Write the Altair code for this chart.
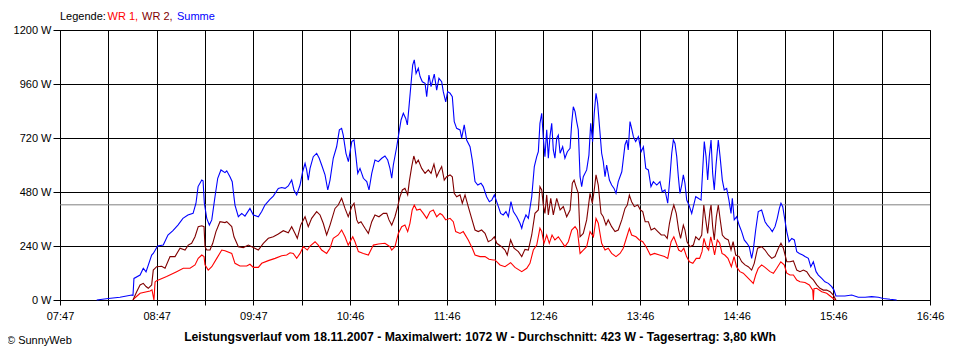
import altair as alt
import pandas as pd

# ---------------- data (minutes after 07:47, Watt) ----------------
t_summe = [
    22.8, 30.0, 37.2, 44.5, 45.3, 45.9, 49.7, 51.7, 53.4, 56.9,
    57.9, 60.6, 64.1, 67.0, 70.1, 73.2, 76.3, 79.4, 82.6, 84.4,
    85.7, 88.0, 88.8, 89.6, 91.1, 92.7, 94.2, 96.2, 97.9, 99.9,
    102.4, 103.5, 105.5, 106.9, 107.6, 108.6, 110.7, 112.8, 114.8, 117.9,
    120.0, 123.1, 125.2, 127.2, 130.3, 132.4, 135.5, 137.6, 139.7, 141.7,
    143.8, 145.2, 146.9, 149.0, 150.6, 152.1, 153.1, 154.1, 155.2, 157.2,
    159.3, 160.9, 162.4, 164.5, 166.2, 167.6, 169.6, 171.7, 173.4, 174.8,
    175.8, 177.5, 179.0, 181.1, 182.5, 183.7, 184.8, 186.2, 188.3, 190.4,
    191.8, 193.5, 195.5, 197.6, 199.7, 201.7, 203.4, 204.8, 205.9, 206.9,
    209.0, 210.0, 211.7, 213.1, 214.6, 215.6, 216.8, 217.9, 218.9, 219.9,
    221.0, 222.4, 223.5, 224.9, 226.6, 227.6, 229.0, 230.3, 232.3, 233.8,
    235.2, 236.9, 237.9, 239.4, 240.6, 242.1, 243.5, 244.7, 246.2, 248.3,
    249.3, 250.9, 252.4, 254.5, 255.9, 257.6, 259.3, 261.3, 262.7, 264.8,
    266.5, 268.0, 269.6, 272.1, 273.5, 275.1, 276.8, 278.3, 279.9, 281.4,
    283.5, 285.5, 286.6, 287.6, 289.2, 290.7, 292.8, 294.4, 295.9, 296.9,
    297.9, 299.0, 300.0, 301.0, 302.1, 303.1, 304.1, 305.2, 306.2, 307.2,
    308.3, 309.3, 310.4, 312.0, 313.4, 314.9, 316.6, 317.6, 318.6, 319.7,
    320.7, 321.7, 322.8, 323.8, 324.8, 326.9, 328.3, 329.4, 330.6, 331.6,
    332.7, 333.7, 334.7, 336.2, 337.2, 338.3, 339.3, 341.0, 342.4, 343.9,
    345.1, 346.5, 348.7, 350.7, 351.8, 352.7, 353.8, 354.8, 355.9, 357.3,
    359.0, 360.7, 362.1, 363.6, 365.2, 366.8, 368.3, 370.4, 372.4, 373.8,
    375.5, 377.2, 378.6, 379.7, 380.7, 381.7, 382.8, 383.8, 384.8, 385.9,
    386.9, 387.9, 389.0, 390.4, 392.1, 393.1, 394.6, 396.2, 397.9, 398.9,
    399.9, 401.0, 402.0, 403.0, 404.1, 405.1, 406.1, 407.2, 408.6, 409.7,
    411.1, 412.3, 413.8, 415.2, 416.5, 417.3, 418.5, 420.0, 421.5, 423.1,
    424.7, 426.4, 427.8, 429.3, 430.3, 431.8, 433.4, 435.5, 437.6, 439.0,
    440.7, 442.1, 443.8, 445.2, 446.5, 447.5, 448.6, 449.6, 451.1, 452.5,
    454.2, 455.8, 457.3, 458.9, 461.0, 462.4, 464.5, 466.0, 467.6, 469.3,
    470.7, 472.8, 474.8, 476.9, 479.0, 480.4, 481.6, 487.2, 491.4, 495.5,
    499.7, 503.8, 507.9, 511.0, 515.2, 519.3,
]
summe = [
    0, 7, 12, 22, 20, 96, 111, 141, 125, 200,
    207, 240, 244, 289, 308, 333, 363, 378, 385, 430,
    504, 533, 530, 430, 363, 333, 356, 459, 541, 578,
    566, 574, 548, 526, 481, 422, 370, 385, 373, 407,
    378, 370, 393, 422, 447, 462, 496, 500, 496, 507,
    533, 489, 467, 511, 570, 607, 578, 533, 585, 637,
    652, 630, 600, 556, 489, 533, 630, 681, 756, 763,
    733, 652, 615, 704, 711, 637, 563, 585, 541, 526,
    489, 563, 622, 615, 630, 640, 622, 585, 541, 600,
    681, 726, 800, 830, 807, 778, 874, 963, 1044, 1067,
    1007, 1030, 993, 970, 963, 904, 1000, 948, 1004, 933,
    985, 970, 926, 881, 926, 919, 904, 793, 763, 756,
    719, 778, 711, 681, 622, 526, 511, 519, 504, 459,
    437, 444, 467, 415, 385, 378, 393, 370, 437, 393,
    370, 341, 319, 348, 378, 363, 459, 593, 637, 659,
    785, 830, 719, 637, 756, 630, 726, 785, 667, 630,
    719, 733, 652, 681, 630, 659, 674, 785, 859, 837,
    793, 756, 548, 504, 548, 578, 644, 785, 704, 830,
    919, 874, 785, 652, 615, 548, 600, 533, 511, 496,
    474, 526, 570, 690, 711, 667, 793, 763, 726, 704,
    726, 659, 681, 585, 578, 504, 526, 511, 526, 481,
    489, 430, 548, 652, 711, 696, 637, 548, 474, 511,
    556, 519, 444, 422, 385, 415, 459, 452, 444, 578,
    704, 637, 533, 637, 711, 563, 489, 600, 711, 637,
    533, 489, 496, 444, 385, 452, 356, 370, 333, 304,
    267, 252, 237, 185, 222, 311, 393, 400, 348, 333,
    319, 304, 326, 363, 407, 430, 415, 370, 304, 259,
    274, 267, 215, 207, 200, 193, 185, 148, 170, 126,
    111, 96, 81, 74, 59, 44, 18, 18, 22, 12,
    12, 15, 12, 7, 3, 0,
]

t_wr2 = [
    45.3, 47.6, 49.7, 51.7, 53.4, 54.8, 56.9, 57.9, 60.0, 63.1,
    65.2, 68.3, 71.4, 74.5, 77.6, 79.6, 81.7, 83.8, 85.8, 88.0,
    89.4, 90.0, 91.1, 93.1, 94.8, 96.8, 99.3, 102.4, 103.5, 106.6,
    108.0, 110.7, 113.8, 116.9, 120.0, 123.1, 126.2, 129.3, 132.4, 135.5,
    138.6, 141.7, 143.8, 145.9, 147.3, 149.4, 152.1, 154.1, 156.2, 159.3,
    161.4, 163.4, 165.5, 167.6, 170.7, 172.7, 174.8, 176.9, 178.9, 181.1,
    182.5, 184.2, 185.2, 186.8, 189.3, 191.4, 193.5, 195.5, 198.0, 200.7,
    202.8, 204.2, 205.9, 207.9, 209.6, 211.0, 212.5, 214.1, 215.8, 216.8,
    218.3, 219.6, 221.0, 222.4, 224.5, 226.6, 228.6, 230.3, 232.1, 233.8,
    235.2, 236.9, 238.5, 240.0, 242.1, 243.5, 244.7, 246.2, 248.3, 249.7,
    251.4, 253.4, 255.5, 257.6, 259.6, 261.7, 263.8, 265.8, 267.9, 269.6,
    271.1, 274.1, 276.2, 277.6, 279.7, 281.8, 284.5, 286.6, 288.6, 290.7,
    292.8, 294.8, 296.9, 297.9, 299.0, 300.0, 301.0, 302.1, 303.1, 304.6,
    306.2, 308.3, 310.4, 312.4, 314.5, 316.6, 318.0, 319.1, 320.3, 321.7,
    322.8, 324.8, 326.9, 329.0, 330.4, 331.6, 332.7, 334.1, 335.8, 337.2,
    338.9, 340.3, 342.4, 344.5, 346.5, 348.7, 350.7, 352.1, 353.4, 354.8,
    356.5, 358.6, 360.3, 361.7, 363.2, 365.2, 366.9, 369.0, 371.1, 373.2,
    375.2, 376.9, 378.3, 379.8, 381.0, 382.5, 384.0, 385.2, 386.9, 387.9,
    389.2, 391.0, 393.1, 394.6, 396.6, 398.3, 399.6, 400.8, 402.0, 403.5,
    404.1, 405.1, 406.1, 407.4, 408.6, 409.8, 411.1, 412.8, 414.8, 416.5,
    417.8, 419.4, 421.5, 423.1, 425.2, 427.2, 429.3, 430.9, 433.0, 435.5,
    437.6, 439.7, 441.8, 443.8, 445.9, 447.5, 449.0, 451.1, 453.1, 455.2,
    457.3, 459.3, 461.4, 463.5, 465.5, 467.6, 469.7, 471.7, 473.8, 475.9,
    478.0, 480.0, 481.6,
]
wr2 = [
    0, 37, 67, 74, 60, 52, 67, 133, 148, 150,
    141, 193, 193, 230, 222, 244, 252, 281, 326, 330,
    326, 237, 222, 222, 252, 304, 348, 344, 348, 326,
    281, 237, 233, 244, 233, 222, 252, 274, 281, 293,
    308, 299, 326, 296, 274, 333, 370, 326, 363, 393,
    378, 341, 289, 333, 407, 422, 452, 407, 370, 415,
    430, 356, 341, 348, 319, 296, 348, 378, 370, 385,
    385, 356, 333, 370, 415, 459, 489, 496, 467, 526,
    593, 640, 607, 622, 585, 563, 578, 563, 604, 548,
    570, 593, 533, 548, 556, 548, 474, 459, 467, 430,
    467, 415, 363, 311, 304, 311, 296, 259, 267, 281,
    252, 237, 222, 200, 267, 230, 215, 193, 225, 222,
    289, 385, 400, 504, 489, 422, 385, 467, 378, 452,
    378, 452, 400, 415, 370, 400, 519, 533, 504, 474,
    281, 296, 356, 474, 430, 489, 556, 511, 385, 370,
    333, 356, 326, 304, 311, 356, 407, 422, 466, 437,
    415, 422, 400, 393, 348, 348, 311, 319, 304, 289,
    289, 274, 341, 393, 422, 385, 311, 274, 333, 311,
    259, 237, 244, 281, 267, 289, 422, 356, 296, 400,
    422, 326, 267, 370, 422, 356, 289, 274, 267, 222,
    259, 200, 193, 170, 156, 148, 133, 163, 230, 237,
    222, 200, 185, 193, 230, 252, 230, 170, 170, 174,
    133, 126, 133, 126, 104, 89, 67, 52, 44, 44,
    37, 22, 0,
]

t_wr1 = [
    45.3, 46.6, 49.7, 55.9, 57.1, 58.3, 59.0, 60.0, 66.2, 72.4,
    76.5, 80.7, 83.8, 85.8, 88.0, 89.4, 90.0, 92.0, 94.2, 97.3,
    100.4, 102.4, 106.6, 108.6, 111.7, 115.9, 117.9, 120.0, 123.1, 125.2,
    129.3, 133.5, 137.6, 140.7, 142.8, 144.8, 146.9, 149.0, 151.0, 153.5,
    155.2, 158.3, 160.3, 162.4, 165.5, 167.6, 169.6, 172.7, 174.8, 176.9,
    178.9, 181.7, 183.1, 185.2, 188.3, 191.4, 194.5, 197.6, 201.7, 204.8,
    205.9, 207.9, 210.0, 212.1, 214.1, 215.8, 217.2, 218.6, 219.9, 221.4,
    223.5, 225.5, 227.6, 229.7, 231.7, 233.8, 235.9, 237.3, 239.4, 242.1,
    244.1, 245.6, 248.3, 250.3, 253.4, 255.9, 257.6, 260.7, 263.8, 266.3,
    268.9, 270.0, 273.1, 276.2, 279.7, 282.4, 286.6, 289.7, 291.7, 293.8,
    295.9, 297.9, 299.0, 300.4, 302.1, 303.7, 305.4, 307.2, 309.3, 311.4,
    313.4, 315.5, 317.6, 319.7, 321.1, 322.8, 324.8, 326.9, 329.0, 331.1,
    332.7, 334.1, 336.2, 338.3, 340.3, 342.4, 345.1, 347.6, 349.6, 351.8,
    353.4, 354.8, 357.5, 359.6, 361.7, 363.8, 366.4, 369.0, 372.1, 375.2,
    377.2, 379.3, 381.0, 382.5, 384.0, 385.6, 387.2, 388.9, 390.7, 392.8,
    394.9, 397.0, 398.5, 399.7, 401.2, 402.6, 403.9, 405.3, 406.3, 408.0,
    409.5, 410.9, 412.6, 414.6, 416.7, 418.4, 419.9, 422.0, 424.1, 426.2,
    428.2, 430.3, 431.8, 433.4, 435.5, 437.6, 440.7, 442.8, 444.9, 447.4,
    449.5, 451.1, 453.1, 455.2, 457.3, 459.3, 462.4, 465.1, 467.2, 467.6,
    468.0, 469.7, 472.8, 475.9, 478.0, 480.0, 481.6,
]
wr1 = [
    0, 10, 30, 40, 45, 0, 80, 86, 104, 126,
    141, 141, 156, 185, 200, 193, 156, 133, 148, 185,
    222, 219, 207, 163, 151, 151, 159, 145, 145, 163,
    175, 185, 197, 200, 210, 207, 185, 207, 237, 222,
    240, 259, 244, 222, 207, 230, 274, 289, 311, 281,
    244, 281, 259, 215, 207, 200, 244, 249, 252, 237,
    222, 237, 296, 326, 333, 304, 341, 400, 422, 400,
    404, 385, 363, 393, 400, 370, 385, 378, 356, 363,
    348, 304, 296, 304, 267, 230, 200, 193, 193, 181,
    178, 178, 156, 148, 166, 145, 126, 141, 163, 222,
    244, 319, 304, 252, 289, 252, 289, 267, 281, 259,
    237, 259, 311, 326, 311, 207, 222, 237, 304, 281,
    363, 341, 252, 222, 230, 207, 193, 207, 230, 281,
    318, 289, 281, 267, 259, 237, 200, 207, 200, 193,
    185, 259, 281, 252, 222, 215, 230, 193, 170, 163,
    185, 185, 215, 274, 237, 222, 281, 237, 200, 267,
    252, 207, 200, 185, 148, 193, 148, 126, 119, 104,
    89, 74, 111, 141, 156, 145, 126, 119, 141, 170,
    156, 119, 111, 111, 89, 81, 78, 67, 44, 0,
    50, 52, 37, 30, 18, 7, 0,
]

AVG = 423
SERIES = ["WR 1", "WR 2", "Summe"]
COLORS = ["#ff0000", "#800000", "#0000ff"]
X_TICKS = list(range(0, 541, 30))
X_LABELS = ["07:47", "08:47", "09:47", "10:46", "11:46",
            "12:46", "13:46", "14:46", "15:46", "16:46"]
Y_TICKS = [0, 240, 480, 720, 960, 1200]
TITLE = ("Leistungsverlauf vom 18.11.2007 - Maximalwert: 1072 W - "
         "Durchschnitt: 423 W - Tagesertrag: 3,80 kWh")
FONT = "Liberation Sans"

# ---------------- chart ----------------
label_arr = "[" + ",".join("'" + s + "'" for s in X_LABELS) + "]"
x_label_expr = f"datum.value % 60 == 0 ? {label_arr}[datum.value / 60] : ''"

x_enc = alt.X(
    "t:Q",
    scale=alt.Scale(domain=[0, 540], nice=False, zero=False),
    axis=alt.Axis(values=X_TICKS, labelExpr=x_label_expr, title=None,
                  tickSize=5, labelPadding=5, labelFlush=False,
                  labelOverlap=False, labelBound=False),
)
y_enc = alt.Y(
    "W:Q",
    scale=alt.Scale(domain=[0, 1200], nice=False),
    axis=alt.Axis(values=Y_TICKS, labelExpr="datum.value + ' W'", title=None,
                  tickSize=7, labelPadding=2),
)


def series_layer(t, v, color):
    df = pd.DataFrame({"t": t, "W": v})
    return alt.Chart(df).mark_line(color=color, strokeWidth=1.1,
                                   interpolate="linear").encode(x=x_enc, y=y_enc)


layers = [series_layer(t_wr1, wr1, COLORS[0]),
          series_layer(t_wr2, wr2, COLORS[1]),
          series_layer(t_summe, summe, COLORS[2])]

avg_rule = alt.Chart(pd.DataFrame({"W": [AVG]})).mark_rule(
    color="#808080", strokeWidth=1).encode(y=alt.Y("W:Q"))

# legend text at top (multi-coloured, like the original)
legend_items = [("Legende:", "black", 0), ("WR 1,", COLORS[0], 47.5),
                ("WR 2,", COLORS[1], 82), ("Summe", COLORS[2], 117)]
legend_layers = [
    alt.Chart(pd.DataFrame({"txt": [txt]})).mark_text(
        align="left", baseline="middle", font=FONT, fontSize=11, color=col
    ).encode(x=alt.value(dx), y=alt.value(-13), text="txt:N")
    for txt, col, dx in legend_items
]

title_layer = alt.Chart(pd.DataFrame({"txt": [TITLE]})).mark_text(
    align="center", baseline="middle", font=FONT, fontSize=12.2,
    fontWeight="bold", color="black"
).encode(x=alt.value(420), y=alt.value(307), text="txt:N")

copy_layer = alt.Chart(pd.DataFrame({"txt": ["© SunnyWeb"]})).mark_text(
    align="left", baseline="middle", font=FONT, fontSize=11, color="black"
).encode(x=alt.value(-53), y=alt.value(311), text="txt:N")

chart = alt.layer(avg_rule, *layers, *legend_layers, title_layer, copy_layer).properties(
    width=870, height=270,
    autosize=alt.AutoSizeParams(type="none"),
    padding={"left": 52, "top": 22, "right": 20, "bottom": 46},
    background="white",
).configure_axis(
    grid=True, gridColor="black", gridOpacity=1, gridWidth=1,
    domainColor="black", tickColor="black", labelColor="black",
    labelFont=FONT, labelFontSize=11,
).configure_view(stroke="black", strokeWidth=1)

chart.save("out.html", embed_options={"renderer": "svg", "actions": False})
